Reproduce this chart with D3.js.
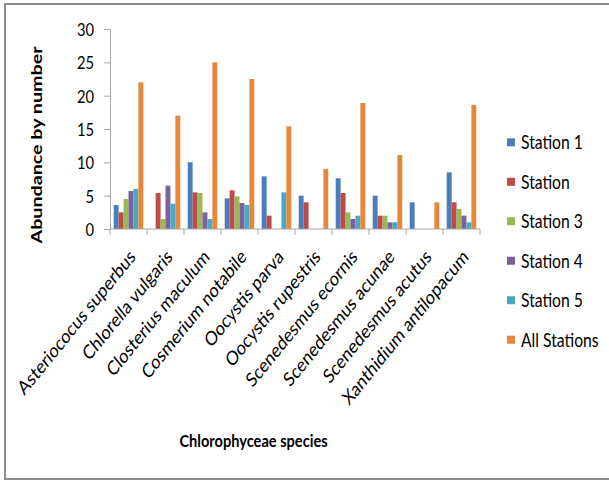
<!DOCTYPE html>
<html>
<head>
<meta charset="utf-8">
<script src="https://cdn.jsdelivr.net/npm/d3@7"></script>
<style>
  html, body { margin: 0; padding: 0; background: #fff; }
  svg { display: block; }
  text { font-family: Lato, "Open Sans", sans-serif; fill: #000; }
</style>
</head>
<body>
<svg id="chart" width="609" height="481"></svg>
<script>
// Abundance of Chlorophyceae species at each sampling station
const species = [
  "Asteriococus superbus", "Chlorella vulgaris", "Closterius maculum",
  "Cosmerium notabile", "Oocystis parva", "Oocystis rupestris",
  "Scenedesmus ecornis", "Scenedesmus acunae", "Scenedesmus acutus",
  "Xanthidium antilopacum"
];
const seriesNames = ["Station 1", "Station", "Station 3", "Station 4", "Station 5", "All Stations"];
const station1 = [3.6, 0, 10, 4.6, 7.9, 5.0, 7.6, 5.0, 4.0, 8.5];
const station2 = [2.5, 5.4, 5.5, 5.8, 2.0, 4.0, 5.4, 2.0, 0, 4.0];
const station3 = [4.5, 1.5, 5.4, 4.9, 0, 0, 2.5, 2.0, 0, 3.0];
const station4 = [5.7, 6.5, 2.5, 3.9, 0, 0, 1.5, 1.0, 0, 2.0];
const station5 = [6.0, 3.8, 1.5, 3.6, 5.5, 0, 2.0, 1.0, 0, 1.0];
const allStations = [22, 17, 25, 22.5, 15.4, 9, 18.9, 11.1, 4, 18.6];
const yTicks = [0, 5, 10, 15, 20, 25, 30];

const seriesValues = [station1, station2, station3, station4, station5, allStations];
const colors = ["#4a7ebb", "#be4b48", "#98b954", "#7d60a0", "#46aac5", "#e8873a"];

const svg = d3.select("#chart");
const SY = 1.23; // vertical text stretch

// outer frame
svg.append("rect")
  .attr("x", 5).attr("y", 4).attr("width", 620).attr("height", 475)
  .attr("fill", "none").attr("stroke", "#8c8c8c").attr("stroke-width", 2);

const plot = { left: 110, right: 480, top: 29, bottom: 229 };

const x0 = d3.scaleBand().domain(species).range([plot.left, plot.right]).paddingInner(0).paddingOuter(0);
const x1 = d3.scaleBand().domain(seriesNames).range([0, x0.bandwidth()]).paddingInner(0).paddingOuter(0.75);
const y = d3.scaleLinear().domain([0, 30]).range([plot.bottom, plot.top]);

// bars
const groups = svg.append("g").selectAll("g")
  .data(species)
  .join("g")
  .attr("transform", d => `translate(${x0(d)},0)`);

groups.selectAll("rect")
  .data((d, i) => seriesNames.map((s, k) => ({ s, k, v: seriesValues[k][i] })))
  .join("rect")
  .attr("x", d => x1(d.s))
  .attr("width", x1.bandwidth())
  .attr("y", d => y(d.v))
  .attr("height", d => y(0) - y(d.v))
  .attr("fill", d => colors[d.k]);

// y axis
const yAxis = svg.append("g")
  .attr("transform", `translate(${plot.left},0)`)
  .call(d3.axisLeft(y).tickValues(yTicks).tickSize(6).tickPadding(10));
yAxis.select(".domain").attr("stroke", "#a6a6a6");
yAxis.selectAll(".tick line").attr("stroke", "#a6a6a6");
yAxis.selectAll(".tick text")
  .attr("font-size", 14.7)
  .attr("font-family", "Lato")
  .attr("dy", null)
  .attr("y", 0)
  .attr("dominant-baseline", "central")
  .attr("transform", `scale(1,${SY})`);

// x axis: ticks at category boundaries
const xAxisG = svg.append("g").attr("transform", `translate(0,${plot.bottom})`);
xAxisG.append("line")
  .attr("x1", plot.left).attr("x2", plot.right)
  .attr("stroke", "#a6a6a6");
xAxisG.selectAll(".bnd")
  .data(species.concat([null]))
  .join("line")
  .attr("class", "bnd")
  .attr("x1", d => d ? x0(d) : plot.right)
  .attr("x2", d => d ? x0(d) : plot.right)
  .attr("y1", 0).attr("y2", 6)
  .attr("stroke", "#a6a6a6");

// rotated category labels
svg.append("g").selectAll("text")
  .data(species)
  .join("text")
  .attr("transform", d => `translate(${x0(d) + x0.bandwidth() / 2 + 8},258) scale(1,${SY}) rotate(-45)`)
  .attr("text-anchor", "end")
  .attr("font-size", 16)
  .text(d => d);

// axis titles
svg.append("text")
  .attr("transform", `translate(253.5,446.5) scale(1,${SY})`)
  .attr("text-anchor", "middle")
  .attr("font-size", 14.6)
  .attr("font-weight", "bold")
  .text("Chlorophyceae species");

svg.append("text")
  .attr("transform", `translate(42,145) scale(1,${SY}) rotate(-90)`)
  .attr("text-anchor", "middle")
  .attr("font-size", 16)
  .attr("font-weight", "bold")
  .text("Abundance by number");

// legend
const ly = d3.scalePoint().domain(seriesNames).range([142.3, 339.7]);
const legend = svg.append("g").selectAll("g")
  .data(seriesNames)
  .join("g")
  .attr("transform", d => `translate(507,${ly(d)})`);
legend.append("rect")
  .attr("x", 0).attr("y", -4).attr("width", 8).attr("height", 8)
  .attr("fill", (d, i) => colors[i]);
legend.append("text")
  .attr("x", 14).attr("y", 0)
  .attr("dominant-baseline", "central")
  .attr("transform", `scale(1,${SY})`)
  .attr("font-size", 15.7)
  .text(d => d);
</script>
</body>
</html>
